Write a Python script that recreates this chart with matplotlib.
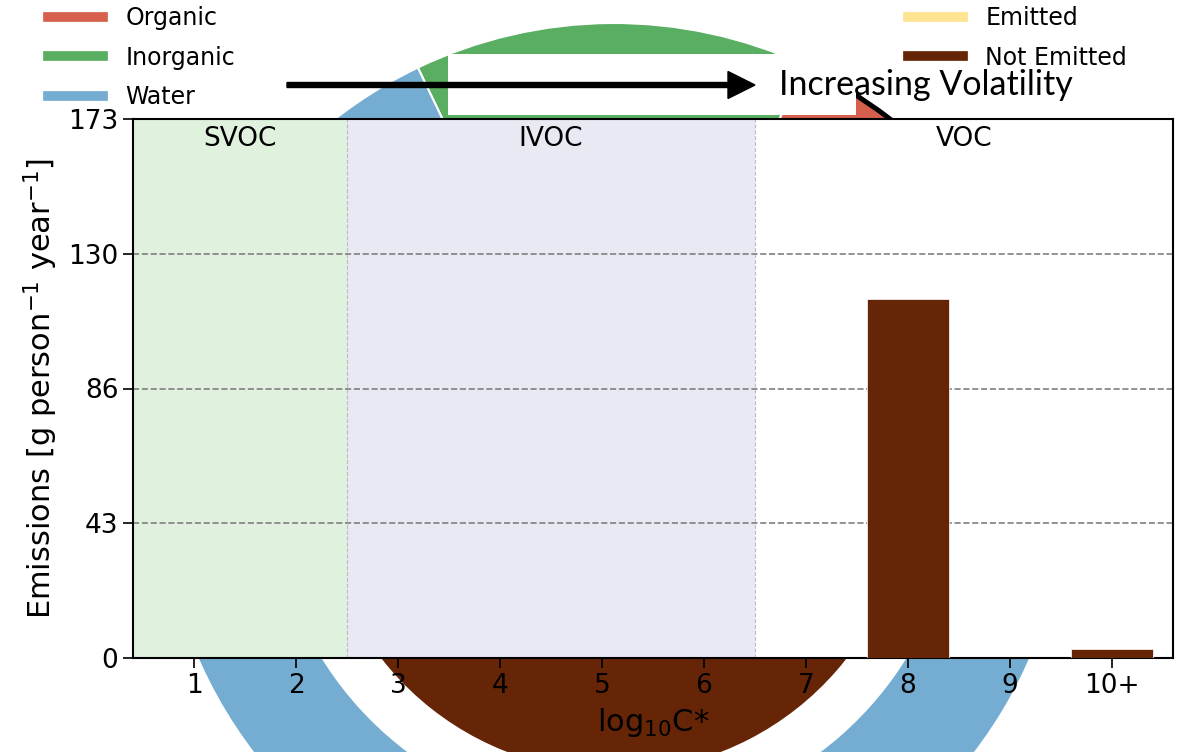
import numpy as np
import matplotlib.pyplot as plt
from matplotlib.patches import Arc, Rectangle
from matplotlib.lines import Line2D

# emissions by volatility bin
bins = ['1', '2', '3', '4', '5', '6', '7', '8', '9', '10+']
emissions = [0, 0, 0, 0, 0, 0, 0, 115.2, 0, 2.9]
ymax = 173
ytick_labels = ['0', '43', '86', '130', '173']

# composition ring (outer) and emitted fraction (inner)
ring_labels = ['Organic', 'Inorganic', 'Water']
ring_values = [7, 14, 79]
inner_labels = ['Emitted', 'Not Emitted']
inner_values = [3, 97]

# volatility classes
classes = ['SVOC', 'IVOC', 'VOC']
class_edges = [0.4, 2.5, 6.5, 10.6]
class_colors = ['#e0f1de', '#e9e9f4', 'white']

c_org = '#d6604d'
c_inorg = '#5aae61'
c_water = '#74add1'
c_emit = '#fee391'
c_notemit = '#662506'

W, H = 1181, 752
fig = plt.figure(figsize=(W / 100, H / 100), dpi=100)
plt.rcParams['font.family'] = ['DejaVu Sans']

# background donut in pixel units
bg = fig.add_axes([0, 0, 1, 1])
cx, cy, R = 614, H - 477, 454
bg.pie(ring_values, colors=[c_org, c_inorg, c_water], startangle=40,
       radius=R, center=(cx, cy),
       wedgeprops=dict(width=111, edgecolor='white', linewidth=1.5))
bg.pie(inner_values, colors=[c_emit, c_notemit], startangle=90,
       radius=295, center=(cx, cy), wedgeprops=dict(linewidth=0))
org_end = 40 + 360 * ring_values[0] / sum(ring_values)
bg.add_patch(Arc((cx, cy), 2 * R - 4, 2 * R - 4, theta1=40, theta2=org_end,
                 color='black', linewidth=3.6, zorder=3))
bg.add_patch(Rectangle((448, H - 115), 408, 61, facecolor='white',
                       edgecolor='none', zorder=4))
bg.arrow(287, H - 85, 468, 0, width=5, head_width=27, head_length=27,
         length_includes_head=True, color='black', zorder=5)
bg.text(779, H - 85, 'Increasing Volatility', family='Lato', fontsize=24.5,
        va='center', ha='left', zorder=6)
bg.set_xlim(0, W)
bg.set_ylim(0, H)
bg.set_aspect('equal')
bg.axis('off')

# bar chart
ax = fig.add_axes([133 / W, 1 - 658 / H, 1040 / W, 539 / H])
ax.set_facecolor('white')
for i, name in enumerate(classes):
    lo, hi = class_edges[i], class_edges[i + 1]
    ax.axvspan(lo, hi, color=class_colors[i], zorder=0, linewidth=0)
    ax.text((lo + hi) / 2, 0.962, name, transform=ax.get_xaxis_transform(),
            ha='center', va='center', fontsize=19)
for x in class_edges[1:3]:
    ax.axvline(x, color='#bbbbbb', linestyle='--', linewidth=0.8, zorder=1)

x = np.arange(1, len(bins) + 1)
ax.bar(x, emissions, width=0.8, color=c_notemit, edgecolor='white',
       linewidth=0.5, zorder=3)

ax.set_xlim(class_edges[0], class_edges[-1])
ax.set_ylim(0, ymax)
ax.set_xticks(x)
ax.set_xticklabels(bins)
ax.set_yticks(np.linspace(0, ymax, 5))
ax.set_yticklabels(ytick_labels)
ax.yaxis.grid(True, linestyle='--', color='gray', linewidth=1.2, zorder=2)
ax.tick_params(labelsize=19, length=7, width=1.2)
for s in ax.spines.values():
    s.set_linewidth(1.5)
ax.set_xlabel(r'log$_{10}$C*', fontsize=22, labelpad=5)
ax.set_ylabel(r'Emissions [g person$^{-1}$ year$^{-1}$]', fontsize=22,
              labelpad=6)

# legends
legend_kw = dict(loc='upper left', frameon=False, fontsize=17,
                 handlelength=2.33, handletextpad=0.95, labelspacing=0.66,
                 borderaxespad=0, borderpad=0)
h1 = [Line2D([], [], color=c, linewidth=7) for c in [c_org, c_inorg, c_water]]
fig.legend(h1, ring_labels, bbox_to_anchor=(48 / W, 1 - 6 / H), **legend_kw)
h2 = [Line2D([], [], color=c, linewidth=7) for c in [c_emit, c_notemit]]
fig.legend(h2, inner_labels, bbox_to_anchor=(908 / W, 1 - 6 / H), **legend_kw)

fig.savefig('out.png', dpi=100)
